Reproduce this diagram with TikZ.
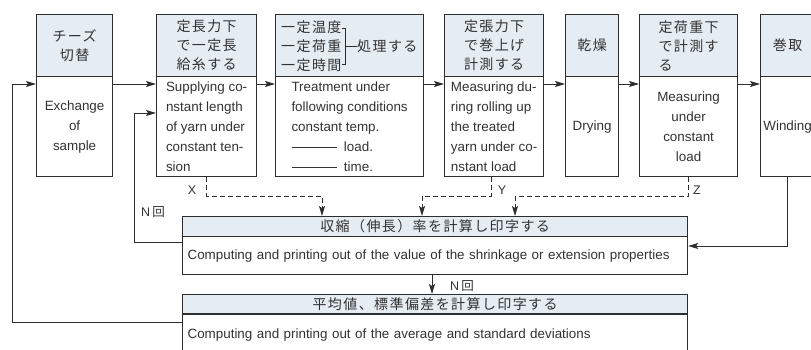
\documentclass[tikz,border=0pt]{standalone}
\usepackage{fontspec}
\setmainfont{Liberation Sans}
\newfontfamily\jpfamily{Noto Sans CJK JP}[LetterSpace=10]
\usepackage{tikz}
\usepackage{xcolor}
\usetikzlibrary{arrows.meta}
\definecolor{boxline}{RGB}{45,45,45}
\definecolor{headfill}{RGB}{229,236,242}
\definecolor{inkgray}{RGB}{50,50,50}
\newcommand{\jpsize}{\jpfamily\fontsize{14}{19}\selectfont}
\newcommand{\ensize}{\fontsize{13.4}{20}\selectfont}
\tikzstyle{head} = [rectangle, anchor=north west, minimum height=62pt, inner sep=0pt, align=center, draw=boxline, line width=1.2pt, fill=headfill, text=inkgray, font=\jpsize]
\tikzstyle{body} = [rectangle, anchor=north west, minimum height=100pt, inner sep=0pt, align=center, draw=boxline, line width=1.2pt, text=inkgray, font=\ensize]
\tikzstyle{jptext} = [inner sep=0pt, align=left, text=inkgray, font=\jpsize]
\tikzstyle{lbl} = [inner sep=0pt, text=inkgray, font=\fontsize{12.5}{14}\selectfont]
\tikzstyle{arrow} = [draw=boxline, line width=0.9pt, -{Stealth[length=10pt, width=6pt, inset=2pt]}]
\tikzstyle{dasharrow} = [arrow, dash pattern=on 5pt off 3pt]

\begin{document}
\begin{tikzpicture}[x=1pt, y=-1pt]
\useasboundingbox (0,0) rectangle (811,350);
\clip (0,0) rectangle (811,350);

% process steps
\node[head, minimum width=76pt] (cheeseH) at (36,14) {チーズ\\切替};
\node[body, minimum width=76pt] (cheese) at (36,76) {Exchange\\of\\sample};
\node[head, minimum width=100pt] (feedH) at (156,14) {定長力下\\で一定長\\給糸する};
\node[body, minimum width=100pt, align=left] (feed) at (156,76) {Supplying co-\\nstant length\\of yarn under\\constant ten-\\sion};
\node[head, minimum width=148pt] (treatH) at (275,14) {};
\node[jptext, anchor=west] (cond) at (281,46) {一定温度\\一定荷重\\一定時間};
\node[jptext, anchor=west] (proc) at (357,46) {処理する};
\node[body, minimum width=148pt, align=left] (treat) at (275,76) {Treatment under\\following conditions\\constant temp.\\\rule[4pt]{45pt}{0.6pt}\ \ load.\\\rule[4pt]{45pt}{0.6pt}\ \ time.};
\node[head, minimum width=99pt] (rollupH) at (444,14) {定張力下\\で巻上げ\\計測する};
\node[body, minimum width=99pt, align=left] (rollup) at (444,76) {Measuring du-\\ring rolling up\\the treated\\yarn under co-\\nstant load};
\node[head, minimum width=53pt] (dryH) at (565,14) {乾燥};
\node[body, minimum width=53pt] (dry) at (565,76) {Drying};
\node[head, minimum width=98pt, align=left] (measureH) at (639,14) {定荷重下\\で計測す\\る};
\node[body, minimum width=98pt] (measure) at (639,76) {Measuring\\under\\constant\\load};
\node[head, minimum width=54pt] (windH) at (760,14) {巻取};
\node[body, minimum width=54pt] (wind) at (760,76) {Winding};

% computing steps
\node[head, minimum width=505pt, minimum height=20pt] (calcH) at (182,216) {収縮（伸長）率を計算し印字する};
\node[body, minimum width=505pt, minimum height=38pt, text width=495pt, align=left] (calc) at (182,236) {Computing and printing out of the value of the shrinkage or extension properties};
\node[head, minimum width=505pt, minimum height=20pt] (avgH) at (182,294) {平均値、標準偏差を計算し印字する};
\node[body, minimum width=505pt, minimum height=42pt, text width=495pt, align=left] (avg) at (182,313) {Computing and printing out of the average and standard deviations};

% labels
\node[lbl] (xLbl) at (192,190) {X};
\node[lbl] (yLbl) at (502,190) {Y};
\node[lbl] (zLbl) at (697,190) {Z};
\node[lbl] (nLoop) at (153,212) {N\,{\jpfamily 回}};
\node[lbl] (nCalc) at (462,286) {N\,{\jpfamily 回}};

% bracket in treatment header
\draw[boxline, line width=0.7pt] ([yshift=18pt]cond.east) -- ++(4,0) |- ([yshift=-18pt]cond.east);
\draw[boxline, line width=0.7pt] ([xshift=4pt]cond.east) -- (proc.west);

% main flow
\draw[arrow] ([yshift=-8pt]cheese.north east) -- ([yshift=-8pt]feed.north west);
\draw[arrow] ([yshift=-8pt]feed.north east) -- ([yshift=-8pt]treat.north west);
\draw[arrow] ([yshift=-8pt]treat.north east) -- ([yshift=-8pt]rollup.north west);
\draw[arrow] ([yshift=-8pt]rollup.north east) -- ([yshift=-8pt]dry.north west);
\draw[arrow] ([yshift=-8pt]dry.north east) -- ([yshift=-8pt]measure.north west);
\draw[arrow] ([yshift=-8pt]measure.north east) -- ([yshift=-8pt]wind.north west);
\draw[arrow] (wind.south) |- ([yshift=-10pt]calc.north east);
\draw[arrow] ([xshift=250pt]calc.south west) -- ([xshift=250pt]avgH.north west);

% loops
\draw[arrow] ([yshift=-6pt]calc.north west) -- ++(-48,0) |- ([yshift=-37pt]feed.north west);
\draw[arrow] ([yshift=-9pt]avg.north west) -- ++(-170,0) |- ([yshift=-8pt]cheese.north west);

% measured values
\draw[dasharrow] (feed.south) -- ++(0,19) -| ([xshift=140pt]calcH.north west);
\draw[dasharrow] ([xshift=-3pt]rollup.south) -- ++(0,19) -| ([xshift=240pt]calcH.north west);
\draw[dasharrow] (measure.south) -- ++(0,19) -| ([xshift=333pt]calcH.north west);
\end{tikzpicture}
\end{document}
